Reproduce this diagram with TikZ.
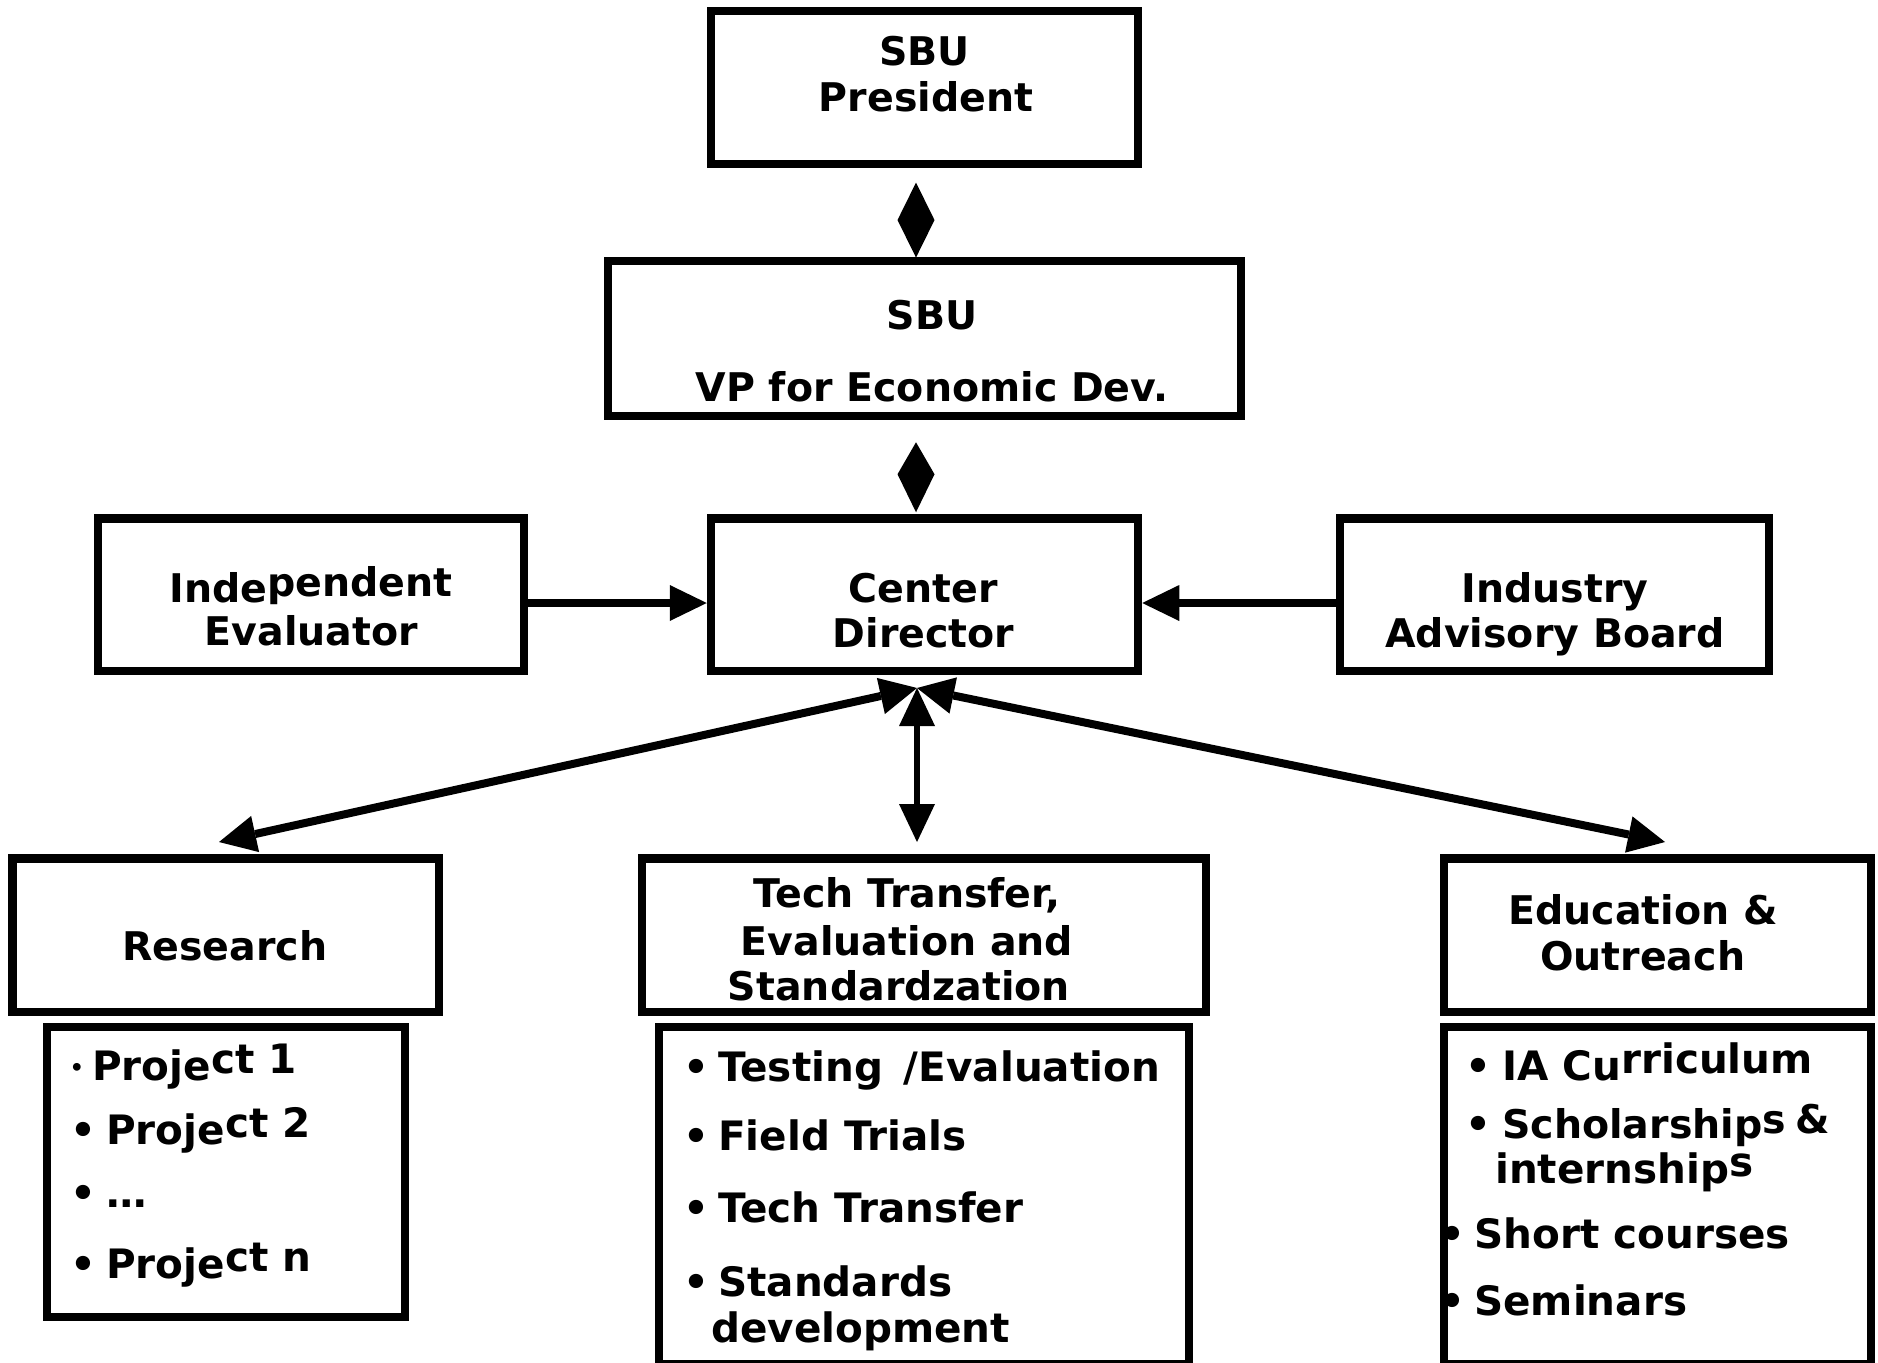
\documentclass[tikz,border=0pt]{standalone}
\usepackage{fontspec}
\setmainfont{DejaVu Sans}
\usetikzlibrary{arrows.meta}
\tikzset{
  box/.style={draw, rectangle, line width=8.5pt, inner sep=0pt},
  txt/.style={inner sep=0pt, font=\fontsize{39.5}{46}\selectfont\bfseries},
  ltxt/.style={inner sep=0pt, font=\fontsize{40.5}{46}\selectfont\bfseries},
  tl/.style={txt, anchor=base},
  lb/.style={ltxt, anchor=base},
  tw/.style={ltxt, anchor=base west},
  harrow/.style={line width=8pt, -{Triangle[length=37pt,width=36pt,line width=0pt]}},
  darrow/.style={line width=8pt, {Triangle[length=37pt,width=37pt,line width=0pt]}-{Triangle[length=37pt,width=37pt,line width=0pt]}},
  marrow/.style={line width=5.5pt, {Triangle[length=38pt,width=36pt,line width=0pt]}-{Triangle[length=38pt,width=36pt,line width=0pt]}},
}
\begin{document}
\begin{tikzpicture}[x=1pt,y=-1pt]
\useasboundingbox[fill=white] (0,0) rectangle (1878,1362);

% boxes
\node[box, minimum width=427pt, minimum height=153pt] (pres) at (924.5,87.5) {};
\node[box, minimum width=633pt, minimum height=155pt] (vp) at (924.5,338.5) {};
\node[box, minimum width=426pt, minimum height=152.5pt] (indep) at (311,594.75) {};
\node[box, minimum width=427pt, minimum height=152.5pt] (center) at (924.5,594.75) {};
\node[box, minimum width=429pt, minimum height=152.5pt] (iab) at (1554.5,594.75) {};
\node[box, minimum width=426.5pt, minimum height=153.5pt] (research) at (225.75,935.25) {};
\node[box, minimum width=564pt, minimum height=153.5pt] (tech) at (924,935.25) {};
\node[box, minimum width=427pt, minimum height=153.5pt] (edu) at (1657.5,935.25) {};
\node[box, minimum width=358pt, minimum height=290pt] (projects) at (226,1172) {};
\node[box, minimum width=530pt, minimum height=337pt] (testing) at (924,1195.5) {};
\node[box, minimum width=427pt, minimum height=337pt] (edulist) at (1657.5,1195.5) {};

% box titles
\node[tl] (presA) at (924.5,66) {SBU};
\node[tl] (presB) at (926,112) {President};
\node[tl] (vpA) at (932,329) {SBU};
\node[tl] (vpB) at (932,401) {VP for Economic Dev.};
\node[tl] (indA) at (311,602) {Inde\raisebox{6pt}{pendent}};
\node[tl] (indB) at (311.5,645) {Evaluator};
\node[tl] (cenA) at (923.5,602) {Center};
\node[tl] (cenB) at (923.5,647) {Director};
\node[tl] (iabA) at (1555,602) {Industry};
\node[tl] (iabB) at (1555,647) {Advisory Board};
\node[tl] (resA) at (224.6,960.5) {Research};
\node[tl] (techA) at (907,907) {Tech Transfer,};
\node[tl] (techB) at (907,955) {Evaluation and};
\node[tl] (techC) at (899,1000) {Standardzation};
\node[tl] (eduA) at (1643,924.6) {Education \&};
\node[tl] (eduB) at (1642.6,970) {Outreach};

% research list
\node[inner sep=0pt, anchor=base, font=\fontsize{22}{22}\selectfont\bfseries] (p1b) at (77,1075) {•};
\node[tw] (p1) at (92,1080) {Proje\raisebox{7pt}{ct 1}};
\node[lb] (p2b) at (83,1144) {•};
\node[tw] (p2) at (106,1144) {Proje\raisebox{7pt}{ct 2}};
\node[lb] (p3b) at (83,1207) {•};
\node[tw] (p3) at (106,1207) {…};
\node[lb] (p4b) at (83,1278) {•};
\node[tw] (p4) at (106,1278) {Proje\raisebox{7pt}{ct n}};

% testing list
\node[lb] (t1b) at (696,1081) {•};
\node[tw] (t1) at (718,1081) {Testing \,/Evaluation};
\node[lb] (t2b) at (696,1150) {•};
\node[tw] (t2) at (718,1150) {Field Trials};
\node[lb] (t3b) at (696,1222) {•};
\node[tw] (t3) at (718,1222) {Tech Transfer};
\node[lb] (t4b) at (696,1296) {•};
\node[tw] (t4) at (718,1296) {Standards};
\node[tw] (t5) at (711,1342) {development};

% education list
\node[lb] (e1b) at (1478,1080) {•};
\node[tw] (e1) at (1502,1080) {IA Cu\raisebox{7pt}{rriculum}};
\node[lb] (e2b) at (1478,1138) {•};
\node[tw, font=\fontsize{39.5}{46}\selectfont\bfseries] (e2) at (1502,1138) {Scholarship\raisebox{5pt}{s\kern-4pt\ \&}};
\node[tw] (e2c) at (1495,1183) {internship\raisebox{7pt}{s}};
\node[lb] (e3b) at (1452,1248) {•};
\node[tw] (e3) at (1474,1248) {Short courses};
\node[lb] (e4b) at (1452,1315) {•};
\node[tw] (e4) at (1474,1315) {Seminars};

% connectors
\coordinate (dx) at (916,0);
\fill (pres.south -| dx) ++(0,14.3) -- ++(18.5,37.5) -- ++(-18.5,37.5) -- ++(-18.5,-37.5) -- cycle;
\fill (vp.south -| dx) ++(0,22) -- ++(18.5,32) -- ++(-18.5,38) -- ++(-18.5,-38) -- cycle;

\coordinate (ay) at (0,603);
\draw[harrow] (indep.east |- ay) -- (center.west |- ay);
\draw[harrow] (iab.west |- ay) -- (center.east |- ay);

\coordinate (hub) at (917,688);
\coordinate (rtip) at (219,842);
\coordinate (ttip) at (917,842);
\coordinate (etip) at (1665,842);
\draw[darrow] (hub) -- (rtip);
\draw[darrow] (hub) -- (etip);
\draw[marrow] (hub) -- (ttip);
\end{tikzpicture}
\end{document}
